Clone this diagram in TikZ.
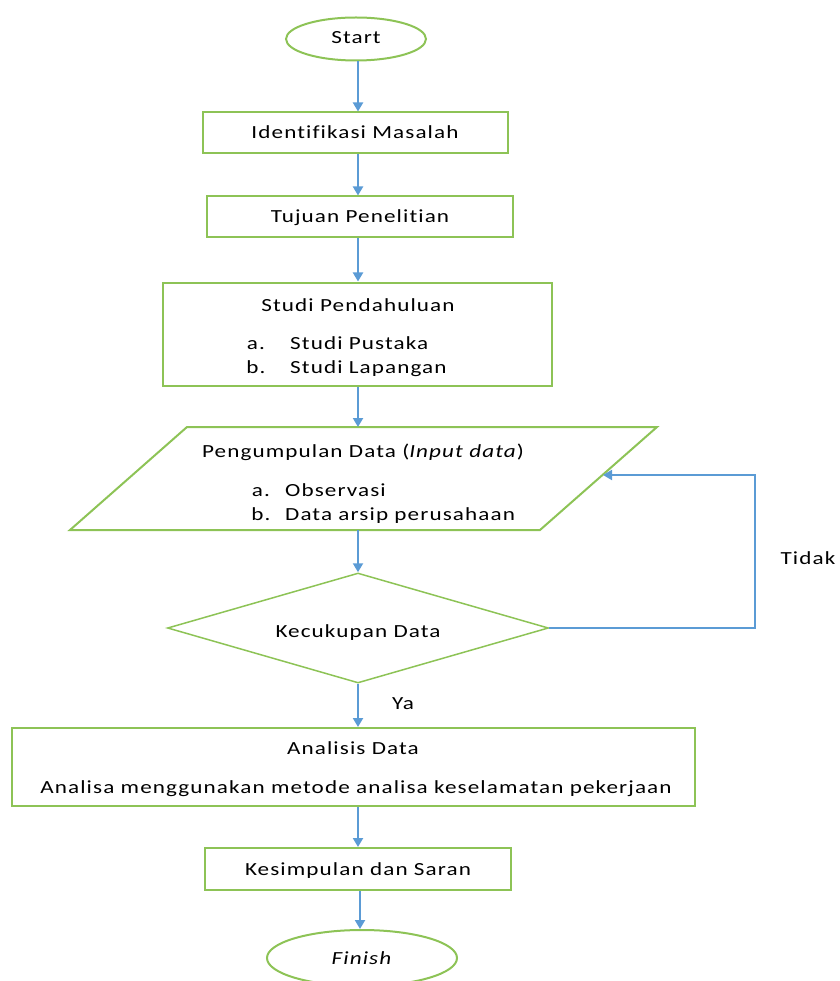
\documentclass[tikz,border=0pt]{standalone}
\usepackage{fontspec}
\setmainfont{Carlito}[FakeStretch=1.25,LetterSpace=6,Ligatures={NoCommon}]
\usetikzlibrary{arrows.meta,shapes.geometric}

\definecolor{boxgreen}{RGB}{141,195,86}
\definecolor{flowblue}{RGB}{91,155,213}

\tikzset{
  stepbox/.style={draw=boxgreen,line width=2pt,rectangle,inner sep=0pt},
  endbox/.style={draw=boxgreen,line width=2pt,ellipse,inner sep=0pt},
  askbox/.style={draw=boxgreen,line width=1.5pt,diamond,inner sep=0pt},
  txt/.style={inner sep=0pt,anchor=base,yshift=-6pt,font=\fontsize{18.5}{22}\selectfont},
  flow/.style={draw=flowblue,line width=2pt,-{Triangle[length=9pt,width=10pt]}}
}

\begin{document}
\begin{tikzpicture}[x=1pt,y=-1pt]
    \useasboundingbox (0,0) rectangle (839,981);

    % Start and first steps
    \node[endbox,minimum width=140,minimum height=43] (start) at (356,39) {};
    \node[txt] (starttxt) at (356,38) {Start};
    \node[stepbox,minimum width=305,minimum height=41] (ident) at (355,133) {};
    \node[txt] (identtxt) at (355,133) {Identifikasi Masalah};
    \node[stepbox,minimum width=306,minimum height=41] (tujuan) at (360,217) {};
    \node[txt] (tujuantxt) at (360,217) {Tujuan Penelitian};

    % Studi pendahuluan
    \node[stepbox,minimum width=389,minimum height=103] (studi) at (357,334) {};
    \node[txt] (studitxt) at (358,305) {Studi Pendahuluan};
    \node[txt] (studia) at (256,343) {a.};
    \node[txt,anchor=base west] (studipustaka) at (290,343) {Studi Pustaka};
    \node[txt] (studib) at (256,367) {b.};
    \node[txt,anchor=base west] (studilapangan) at (290,367) {Studi Lapangan};

    % Input data
    \draw[boxgreen,line width=2pt] (187,427) -- (657,427) -- (540,530) -- (70,530) -- cycle;
    \coordinate (intop) at (358,427);
    \coordinate (inbot) at (358,530);
    \coordinate (inret) at (603,475);
    \node[txt] (inputtxt) at (363,451) {Pengumpulan Data (\textit{Input data})};
    \node[txt] (inputa) at (261,490) {a.};
    \node[txt,anchor=base west] (inputobs) at (285,490) {Observasi};
    \node[txt] (inputb) at (261,514) {b.};
    \node[txt,anchor=base west] (inputarsip) at (285,514) {Data arsip perusahaan};

    % Decision
    \node[askbox,minimum width=381,minimum height=110] (cukup) at (358,628) {};
    \node[txt] (cukuptxt) at (358,631) {Kecukupan Data};
    \coordinate (loop) at (755,475);
    \node[txt] (tidak) at (808,558) {Tidak};
    \node[txt] (ya) at (403,703) {Ya};

    % Analysis and end
    \node[stepbox,minimum width=683,minimum height=78] (analisis) at (353,767) {};
    \node[txt] (analisistxt) at (353,748) {Analisis Data};
    \node[txt] (analisistxt2) at (356,787) {Analisa menggunakan metode analisa keselamatan pekerjaan};
    \node[stepbox,minimum width=306,minimum height=42] (simpul) at (358,869) {};
    \node[txt] (simpultxt) at (358,869) {Kesimpulan dan Saran};
    \node[endbox,minimum width=190,minimum height=56] (finish) at (362,958) {};
    \node[txt] (finishtxt) at (362,958) {\textit{Finish}};

    % Connectors
    \draw[flow] (start.south -| 358,0) -- (ident.north -| 358,0);
    \draw[flow] (ident.south -| 358,0) -- (tujuan.north -| 358,0);
    \draw[flow] (tujuan.south -| 358,0) -- (studi.north -| 358,0);
    \draw[flow] (studi.south -| intop) -- (intop);
    \draw[flow] (inbot) -- (cukup.north);
    \draw[flow] (cukup.south) -- (analisis.north -| cukup.south);
    \draw[flow] (analisis.south -| 358,0) -- (simpul.north -| 358,0);
    \draw[flow] (simpul.south -| 360,0) -- (finish.north -| 360,0);
    \draw[flow] (cukup.east) -| (loop) -- (inret);

\end{tikzpicture}
\end{document}
